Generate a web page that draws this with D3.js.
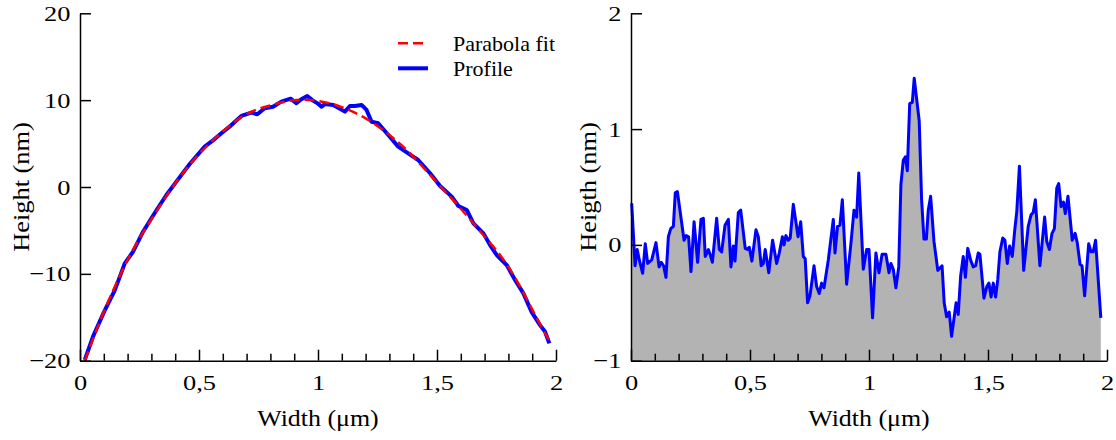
<!DOCTYPE html>
<html>
<head>
<meta charset="utf-8">
<script src="https://cdn.jsdelivr.net/npm/d3@7"></script>
<style>
  body { margin: 0; background: #fff; }
  svg { display: block; }
</style>
</head>
<body>
<div id="chart"></div>
<script>
// Left panel: measured profile and its parabola fit (width in µm, height in nm)
const profileX = [0.02, 0.055, 0.104, 0.146, 0.188, 0.223, 0.265, 0.30, 0.33, 0.363, 0.412, 0.461,
  0.524, 0.56, 0.594, 0.635, 0.678, 0.72, 0.745, 0.776, 0.811, 0.846, 0.885, 0.909, 0.93, 0.955,
  0.979, 1.0, 1.015, 1.03, 1.064, 1.113, 1.134, 1.155, 1.183, 1.204, 1.225, 1.253, 1.289, 1.337,
  1.379, 1.421, 1.471, 1.513, 1.562, 1.59, 1.625, 1.653, 1.695, 1.723, 1.751, 1.793, 1.828, 1.863,
  1.898, 1.933, 1.954, 1.972];
const profileY = [-19.9, -17.2, -14.2, -11.9, -8.8, -7.45, -5.15, -3.6, -2.3, -0.92, 0.88, 2.65,
  4.65, 5.4, 6.18, 7.1, 8.18, 8.56, 8.37, 9.07, 9.25, 9.83, 10.17, 9.64, 10.1, 10.48,
  9.95, 9.6, 9.25, 9.56, 9.45, 8.68, 9.33, 9.33, 9.45, 8.87, 7.52, 7.34, 6.18, 4.65,
  3.88, 3.11, 1.58, 0.12, -1.11, -2.19, -2.65, -4.19, -5.34, -6.68, -7.83, -8.99, -10.7, -12.25,
  -14.4, -15.9, -16.67, -18.0];

const fitX = [0.02, 0.1, 0.2, 0.3, 0.4, 0.5, 0.6, 0.7, 0.8, 0.9, 1.0, 1.1, 1.2, 1.3, 1.4, 1.5,
  1.6, 1.7, 1.8, 1.9, 1.97];
const fitY = [-20, -14.4, -8.4, -3.7, 0.4, 3.8, 6.4, 8.4, 9.4, 10.0, 9.9, 9.2, 7.9, 6.0, 3.5, 0.5,
  -2.5, -5.7, -9.2, -14.1, -17.6];

// Right panel: residual roughness
const roughX = [0.003, 0.017, 0.026, 0.035, 0.049, 0.060, 0.070, 0.087, 0.105, 0.118, 0.127, 0.137,
  0.147, 0.157, 0.167, 0.178, 0.186, 0.195, 0.223, 0.232, 0.242, 0.252, 0.265, 0.280, 0.294, 0.304,
  0.312, 0.325, 0.332, 0.342, 0.360, 0.371, 0.381, 0.395, 0.409, 0.420, 0.430, 0.437, 0.451, 0.461,
  0.480, 0.489, 0.497, 0.508, 0.525, 0.535, 0.547, 0.556, 0.564, 0.579, 0.595, 0.612, 0.623, 0.636,
  0.643, 0.651, 0.661, 0.669, 0.682, 0.702, 0.713, 0.724, 0.732, 0.742, 0.752, 0.769, 0.780, 0.791,
  0.801, 0.811, 0.829, 0.850, 0.857, 0.868, 0.878, 0.888, 0.906, 0.923, 0.937, 0.948, 0.957, 0.976,
  0.990, 1.000, 1.015, 1.029, 1.042, 1.055, 1.071, 1.084, 1.092, 1.102, 1.113, 1.125, 1.134, 1.144,
  1.153, 1.161, 1.171, 1.182, 1.190, 1.211, 1.221, 1.231, 1.241, 1.249, 1.259, 1.273, 1.289, 1.298,
  1.307, 1.316, 1.326, 1.337, 1.347, 1.366, 1.375, 1.385, 1.396, 1.405, 1.415, 1.427, 1.438, 1.448,
  1.459, 1.466, 1.483, 1.495, 1.504, 1.513, 1.522, 1.532, 1.541, 1.550, 1.562, 1.571, 1.581, 1.591,
  1.602, 1.613, 1.621, 1.632, 1.650, 1.669, 1.681, 1.690, 1.699, 1.718, 1.738, 1.747, 1.758, 1.769,
  1.779, 1.789, 1.797, 1.807, 1.817, 1.825, 1.836, 1.854, 1.866, 1.875, 1.887, 1.895, 1.906, 1.923,
  1.933, 1.942, 1.952, 1.974];
const roughY = [0.36, -0.18, -0.04, -0.13, -0.245, 0.01, -0.16, -0.13, 0.02, -0.19, -0.15, -0.18,
  -0.28, 0.07, 0.14, 0.16, 0.45, 0.46, 0.04, 0.08, 0.07, -0.23, 0.2, -0.15, 0.22, 0.23,
  -0.10, -0.04, -0.08, -0.15, 0.23, -0.04, -0.06, 0.17, 0.22, -0.19, -0.01, -0.14, 0.28, 0.30,
  -0.03, -0.04, -0.02, -0.14, 0.13, 0.07, -0.18, -0.16, -0.04, -0.24, 0.04, -0.16, -0.07, 0.07,
  0.0, 0.08, 0.04, 0.06, 0.35, 0.07, 0.2, -0.10, -0.12, -0.50, -0.44, -0.18, -0.36, -0.42,
  -0.33, -0.37, -0.13, 0.22, -0.07, 0.16, 0.17, 0.39, -0.34, -0.01, 0.30, 0.24, 0.62, -0.21,
  -0.04, -0.04, -0.63, -0.07, -0.24, -0.08, -0.08, -0.24, -0.16, -0.21, -0.37, -0.19, 0.52, 0.73,
  0.76, 0.64, 1.22, 1.23, 1.44, 1.07, 0.39, 0.05, 0.05, 0.30, 0.42, 0.03, -0.22, -0.20,
  -0.18, -0.50, -0.62, -0.58, -0.79, -0.50, -0.60, -0.27, -0.10, -0.28, -0.03, -0.13, -0.19, -0.18,
  -0.07, -0.08, -0.46, -0.36, -0.33, -0.45, -0.33, -0.45, -0.30, -0.06, 0.06, 0.04, -0.16, -0.01,
  -0.10, 0.14, 0.29, 0.68, -0.22, 0.16, 0.26, 0.28, 0.39, -0.18, 0.24, 0.03, -0.04, 0.10,
  0.14, 0.49, 0.53, 0.33, 0.37, 0.27, 0.42, 0.04, 0.10, 0.02, -0.17, -0.18, -0.44, 0.01,
  -0.06, -0.06, 0.04, -0.63];

const xMajor = [0, 0.5, 1, 1.5, 2];
const xMinor = [0.1, 0.2, 0.3, 0.4, 0.6, 0.7, 0.8, 0.9, 1.1, 1.2, 1.3, 1.4, 1.6, 1.7, 1.8, 1.9];
const leftYTicks = [-20, -10, 0, 10, 20];
const rightYTicks = [-1, 0, 1, 2];
const legendLabels = ["Parabola fit", "Profile"];

const W = 1116, H = 440;
const FONT = "'Liberation Serif', 'Times New Roman', serif";

const svg = d3.select("#chart").append("svg")
  .attr("width", W)
  .attr("height", H);

const fmt = d => d3.format("~g")(d).replace(".", ",");

const xL = d3.scaleLinear().domain([0, 2]).range([80, 556]);
const yL = d3.scaleLinear().domain([-20, 20]).range([360.7, 13.3]);
const xR = d3.scaleLinear().domain([0, 2]).range([631, 1107]);
const yR = d3.scaleLinear().domain([-1, 2]).range([360.7, 13.3]);

function styleAxis(g) {
  g.attr("font-family", FONT).attr("font-size", 22);
  g.selectAll("path, line").attr("stroke", "#000").attr("stroke-width", 1.5);
  g.selectAll("text").attr("fill", "#000").attr("transform", "scale(1.2,1)");
}

function drawAxes(x, y, yTicks) {
  // minor ticks first, majors and labels on top
  svg.append("g")
    .attr("transform", `translate(0,${y.range()[0]})`)
    .call(d3.axisBottom(x).tickValues(xMinor).tickSize(-7).tickSizeOuter(0).tickFormat(""))
    .call(styleAxis)
    .call(g => g.select(".domain").remove());

  svg.append("g")
    .attr("transform", `translate(0,${y.range()[0]})`)
    .call(d3.axisBottom(x).tickValues(xMajor).tickSize(-11).tickSizeOuter(0)
      .tickPadding(14).tickFormat(fmt))
    .call(styleAxis);

  svg.append("g")
    .attr("transform", `translate(${x.range()[0]},0)`)
    .call(d3.axisLeft(y).tickValues(yTicks).tickSize(-11).tickSizeOuter(0)
      .tickPadding(8).tickFormat(fmt))
    .call(styleAxis);
}

function axisTitle(x, y, label, vertical) {
  svg.append("text")
    .attr("transform", vertical
      ? `translate(${x},${y}) rotate(-90) scale(1.1,1)`
      : `translate(${x},${y}) scale(1.08,1)`)
    .attr("text-anchor", "middle")
    .attr("font-family", FONT)
    .attr("font-size", 24)
    .attr("fill", "#000")
    .text(label);
}

// ---- left panel ----
const profile = profileX.map((d, i) => [d, profileY[i]]);
const fit = fitX.map((d, i) => [d, fitY[i]]);

svg.append("path")
  .datum(profile)
  .attr("fill", "none")
  .attr("stroke", "#0000ff")
  .attr("stroke-width", 4)
  .attr("stroke-linejoin", "round")
  .attr("d", d3.line().x(d => xL(d[0])).y(d => yL(d[1])));

svg.append("path")
  .datum(fit)
  .attr("fill", "none")
  .attr("stroke", "#ff0000")
  .attr("stroke-width", 2.5)
  .attr("stroke-dasharray", "10,5")
  .attr("d", d3.line().curve(d3.curveNatural).x(d => xL(d[0])).y(d => yL(d[1])));

drawAxes(xL, yL, leftYTicks);
axisTitle(318, 426, "Width (μm)", false);
axisTitle(29, 187, "Height (nm)", true);

// legend
const legend = svg.append("g").attr("font-family", FONT).attr("font-size", 22);
legendLabels.forEach((label, i) => {
  const ly = 43.3 + i * 25;
  legend.append("line")
    .attr("x1", 398).attr("x2", 428)
    .attr("y1", ly).attr("y2", ly)
    .attr("stroke", i === 0 ? "#ff0000" : "#0000ff")
    .attr("stroke-width", i === 0 ? 2.5 : 4)
    .attr("stroke-dasharray", i === 0 ? "10,5" : null);
  legend.append("text")
    .attr("x", 453)
    .attr("y", ly + 7.5)
    .attr("fill", "#000")
    .text(label);
});

// ---- right panel ----
const rough = roughX.map((d, i) => [d, roughY[i]]);

svg.append("path")
  .datum(rough)
  .attr("fill", "#b3b3b3")
  .attr("d", d3.area().x(d => xR(d[0])).y0(yR(-1)).y1(d => yR(d[1])));

svg.append("path")
  .datum(rough)
  .attr("fill", "none")
  .attr("stroke", "#0000ff")
  .attr("stroke-width", 3)
  .attr("stroke-linejoin", "round")
  .attr("d", d3.line().x(d => xR(d[0])).y(d => yR(d[1])));

drawAxes(xR, yR, rightYTicks);
axisTitle(869, 426, "Width (μm)", false);
axisTitle(596, 187, "Heigth (nm)", true);
</script>
</body>
</html>
